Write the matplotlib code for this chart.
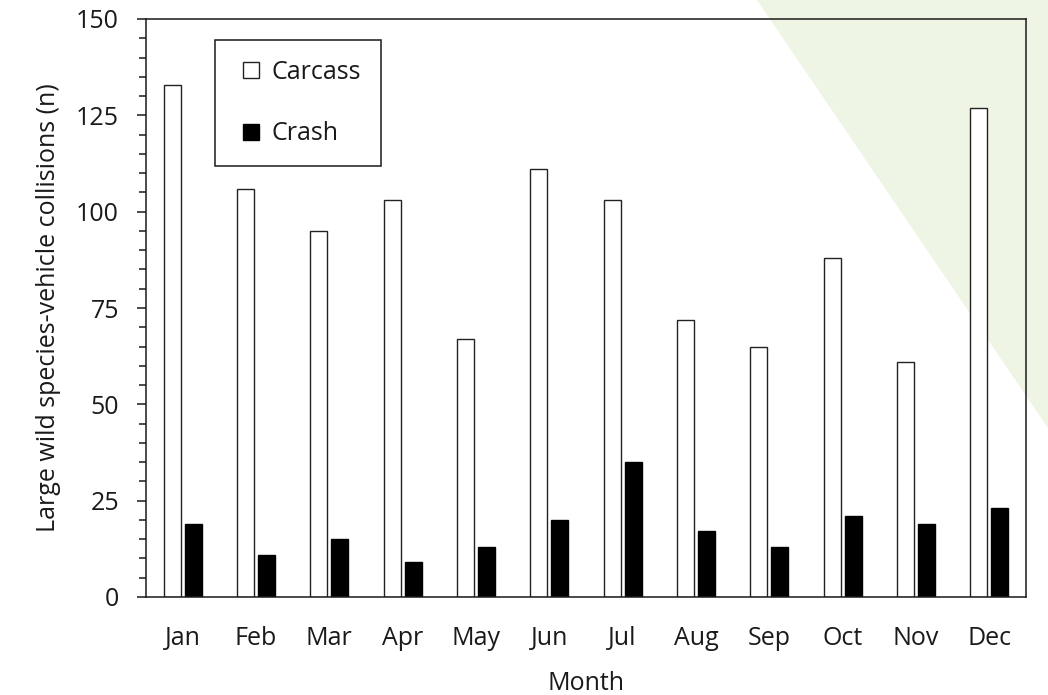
import numpy as np
import matplotlib
matplotlib.use("Agg")
import matplotlib.pyplot as plt
from matplotlib.patches import Polygon
from matplotlib.lines import Line2D
from matplotlib.ticker import MultipleLocator

plt.rcParams['font.family'] = ['Open Sans', 'DejaVu Sans']

months = ['Jan', 'Feb', 'Mar', 'Apr', 'May', 'Jun',
          'Jul', 'Aug', 'Sep', 'Oct', 'Nov', 'Dec']
carcass = [133, 106, 95, 103, 67, 111, 103, 72, 65, 88, 61, 127]
crash = [19, 11, 15, 9, 13, 20, 35, 17, 13, 21, 19, 23]

W, H = 1048, 695
fig = plt.figure(figsize=(W / 100, H / 100), dpi=100)

# pale green corner decoration behind the plot
tri = Polygon([(757 / W, 1.0), (1.0, 1.0), (1.0, 1 - 428 / H)],
              closed=True, transform=fig.transFigure,
              facecolor='#eef5e4', edgecolor='none', zorder=-1)
fig.patches.append(tri)

ax = fig.add_axes([146 / W, 1 - 597 / H, 880 / W, 578 / H])
ax.set_facecolor('none')

x = np.arange(len(months))
off = 0.143
bw = 0.23
ax.bar(x - off, carcass, bw, color='white', edgecolor='#222222',
       linewidth=1.0, label='Carcass', zorder=2)
ax.bar(x + off, crash, bw, color='black', edgecolor='black',
       linewidth=1.0, label='Crash', zorder=2)

ax.set_xlim(-0.5, len(months) - 0.5)
ax.set_ylim(0, 150)
ax.set_xticks(x)
ax.set_xticklabels(months)
ax.yaxis.set_major_locator(MultipleLocator(25))
ax.yaxis.set_minor_locator(MultipleLocator(5))

ax.tick_params(axis='x', length=0, pad=21, labelsize=18, colors='#1a1a1a')
ax.tick_params(axis='y', which='major', direction='out', length=6.5,
               width=1.1, pad=13, labelsize=18, colors='#1a1a1a')
ax.tick_params(axis='y', which='minor', direction='out', length=5,
               width=1.1, colors='#1a1a1a')

for s in ax.spines.values():
    s.set_linewidth(1.1)
    s.set_color('#1a1a1a')

ax.set_ylabel('Large wild species-vehicle collisions (n)', fontsize=18,
              labelpad=11, color='#1a1a1a')
ax.set_xlabel('Month', fontsize=18, labelpad=14, color='#1a1a1a')

handles = [
    Line2D([], [], linestyle='none', marker='s', markersize=12,
           markerfacecolor='white', markeredgecolor='#222222',
           markeredgewidth=1.0),
    Line2D([], [], linestyle='none', marker='s', markersize=12,
           markerfacecolor='black', markeredgecolor='black'),
]
leg = ax.legend(handles, ['Carcass', 'Crash'], loc='upper left',
                bbox_to_anchor=(215 / W, 1 - 40 / H),
                bbox_transform=fig.transFigure, borderaxespad=0,
                fontsize=18, frameon=True, fancybox=False,
                edgecolor='#1a1a1a', framealpha=1, borderpad=0.8,
                labelspacing=1.45, handlelength=1.3, handletextpad=0.15)
leg.get_frame().set_linewidth(1.1)
for t in leg.get_texts():
    t.set_color('#1a1a1a')

fig.savefig('out.png', dpi=100)
